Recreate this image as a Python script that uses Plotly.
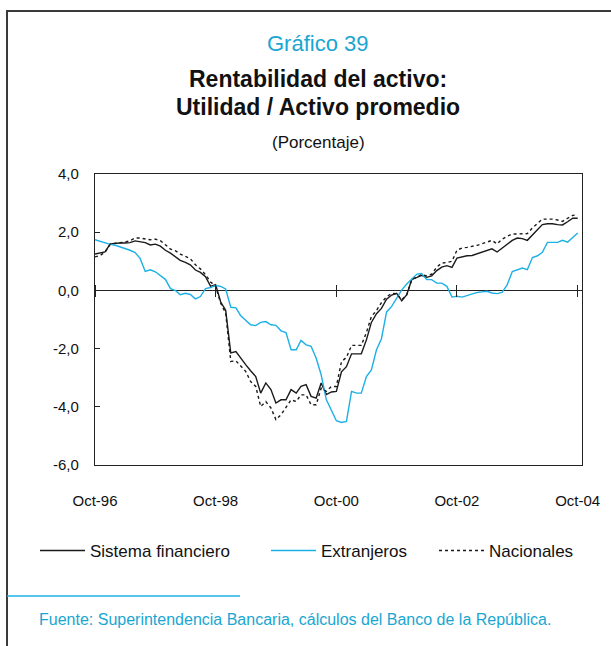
import pandas as pd
import plotly.graph_objects as go

# Monthly series, Oct-1996 .. Oct-2004 (percent)
months = pd.date_range("1996-10-01", "2004-10-01", freq="MS")

sistema = [
    1.25, 1.28, 1.32, 1.60, 1.62, 1.63, 1.63, 1.64, 1.70, 1.66,
    1.64, 1.56, 1.59, 1.52, 1.38, 1.28, 1.14, 1.03, 0.96, 0.88,
    0.70, 0.62, 0.47, 0.14, 0.20, -0.40, -0.68, -2.15, -2.10, -2.33,
    -2.55, -2.76, -2.96, -3.53, -3.18, -3.41, -3.87, -3.76, -3.76, -3.41,
    -3.53, -3.30, -3.24, -3.64, -3.70, -3.18, -3.58, -3.49, -3.47, -2.80,
    -2.62, -2.18, -2.18, -2.18, -1.70, -1.10, -0.80, -0.62, -0.30, -0.16,
    -0.10, -0.36, -0.15, 0.38, 0.45, 0.52, 0.45, 0.50, 0.68, 0.80,
    0.85, 0.79, 1.11, 1.16, 1.19, 1.20, 1.26, 1.32, 1.38, 1.43,
    1.32, 1.45, 1.60, 1.72, 1.80, 1.78, 1.72, 1.90, 2.10, 2.26,
    2.29, 2.29, 2.26, 2.25, 2.36, 2.48, 2.48,
]

extranjeros = [
    1.74, 1.68, 1.62, 1.58, 1.55, 1.50, 1.45, 1.38, 1.30, 1.10,
    0.65, 0.71, 0.64, 0.52, 0.38, 0.06, -0.01, -0.15, -0.10, -0.14,
    -0.29, -0.21, 0.06, 0.10, 0.17, 0.14, 0.05, -0.58, -0.60, -0.86,
    -1.04, -1.18, -1.21, -1.10, -1.07, -1.18, -1.20, -1.39, -1.45, -2.04,
    -2.04, -1.72, -1.87, -1.92, -2.33, -2.90, -3.75, -4.10, -4.48, -4.54,
    -4.50, -3.47, -3.53, -3.53, -2.96, -2.73, -2.04, -1.66, -0.74, -0.55,
    -0.26, 0.02, 0.22, 0.40, 0.56, 0.58, 0.37, 0.37, 0.25, 0.25,
    0.14, -0.23, -0.20, -0.23, -0.17, -0.12, -0.07, -0.05, -0.03, -0.09,
    -0.11, -0.07, 0.19, 0.65, 0.71, 0.77, 0.71, 1.13, 1.19, 1.31,
    1.65, 1.65, 1.65, 1.72, 1.66, 1.82, 1.97,
]

nacionales = [
    1.15, 1.20, 1.32, 1.58, 1.62, 1.63, 1.66, 1.71, 1.80, 1.80,
    1.78, 1.74, 1.76, 1.71, 1.57, 1.42, 1.36, 1.25, 1.17, 1.09,
    0.88, 0.74, 0.54, 0.29, 0.14, -0.44, -0.78, -2.44, -2.42, -2.61,
    -2.78, -3.13, -3.30, -3.99, -3.82, -4.04, -4.44, -4.27, -4.04, -3.76,
    -3.82, -3.59, -3.59, -3.93, -3.93, -3.36, -3.47, -3.30, -3.30, -2.45,
    -2.30, -1.89, -1.89, -1.89, -1.45, -0.90, -0.69, -0.42, -0.22, -0.10,
    -0.12, -0.32, -0.15, 0.38, 0.45, 0.54, 0.50, 0.56, 0.80, 0.94,
    0.96, 1.00, 1.38, 1.46, 1.48, 1.51, 1.55, 1.60, 1.66, 1.72,
    1.60, 1.76, 1.86, 1.94, 1.94, 1.94, 1.95, 2.15, 2.30, 2.45,
    2.45, 2.45, 2.42, 2.37, 2.48, 2.58, 2.60,
]

x_tick_dates = ["1996-10-01", "1998-10-01", "2000-10-01", "2002-10-01", "2004-10-01"]
x_tick_labels = ["Oct-96", "Oct-98", "Oct-00", "Oct-02", "Oct-04"]
y_tick_values = [4, 2, 0, -2, -4, -6]
y_tick_labels = [f"{v:.1f}".replace(".", ",") for v in y_tick_values]

CYAN_LINE = "#1DB0E6"
CYAN_TEXT = "#1AA6D2"
SANS = "Liberation Sans, Arial, sans-serif"
INK = "#111"

# plot area in pixels: left 95, right 582, top 174, bottom 465
PX_L, PX_W, PX_B, PX_H = 95, 487, 465, 291


def px_x(px):
    return (px - PX_L) / PX_W


def px_y(py):
    return (PX_B - py) / PX_H


fig = go.Figure()
fig.add_trace(go.Scatter(x=months, y=sistema, mode="lines", name="Sistema financiero",
                         legend="legend", line=dict(color="#1a1a1a", width=1.4)))
fig.add_trace(go.Scatter(x=months, y=extranjeros, mode="lines", name="Extranjeros",
                         legend="legend2", line=dict(color=CYAN_LINE, width=1.4)))
fig.add_trace(go.Scatter(x=months, y=nacionales, mode="lines", name="Nacionales",
                         legend="legend3", line=dict(color="#1a1a1a", width=1.4, dash="3px,3px")))

# Invisible companion so the overlaid tick axis on the zero line is rendered
fig.add_trace(go.Scatter(x=[months[0]], y=[0], xaxis="x2", mode="markers",
                         marker=dict(opacity=0), showlegend=False, hoverinfo="skip"))

x_range = ["1996-10-01", "2004-10-27"]
legend_style = dict(orientation="h", yanchor="middle", xanchor="left", y=px_y(551),
                    font=dict(family=SANS, size=17, color=INK), itemwidth=45,
                    bgcolor="rgba(0,0,0,0)")

fig.update_layout(
    width=611, height=646,
    margin=dict(l=95, r=29, t=174, b=181),
    paper_bgcolor="white", plot_bgcolor="white",
    showlegend=True,
    legend=dict(legend_style, x=px_x(35)),
    legend2=dict(legend_style, x=px_x(266)),
    legend3=dict(legend_style, x=px_x(434)),
    xaxis=dict(type="date", range=x_range, tickvals=x_tick_dates, ticktext=x_tick_labels,
               showgrid=False, zeroline=False, ticks="", ticklabelstandoff=22,
               showline=True, linecolor="#222", linewidth=1.2, mirror=True,
               tickfont=dict(family=SANS, size=15, color=INK)),
    xaxis2=dict(type="date", range=x_range, matches="x", overlaying="x", anchor="free",
                position=0.6 + 6 / PX_H, side="bottom", tickvals=x_tick_dates,
                showticklabels=False, ticks="outside", ticklen=12, tickwidth=1.4,
                tickcolor="#222", showline=False, showgrid=False, zeroline=False),
    yaxis=dict(range=[-6, 4], tickvals=y_tick_values, ticktext=y_tick_labels,
               showgrid=False, zeroline=True, zerolinecolor="#222", zerolinewidth=1.3,
               ticks="inside", ticklen=5, tickcolor="#222", ticklabelstandoff=12,
               showline=True, linecolor="#222", linewidth=1.2, mirror=True,
               tickfont=dict(family=SANS, size=15, color=INK)),
)

# Outer frame: a box whose top and left edges fall inside the page
fig.add_shape(type="rect", xref="paper", yref="paper",
              x0=px_x(7), x1=px_x(700), y0=px_y(11), y1=px_y(700),
              line=dict(color="#3a3a3a", width=2), fillcolor="rgba(0,0,0,0)", layer="above")
# Separator above the source note
fig.add_shape(type="line", xref="paper", yref="paper", x0=px_x(7), x1=px_x(240),
              y0=px_y(596), y1=px_y(596), line=dict(color=CYAN_LINE, width=1.4))

cx = px_x(318)
heading = [
    ("Gráfico 39", 43, dict(family=SANS, size=22, color=CYAN_TEXT)),
    ("<b>Rentabilidad del activo:</b>", 79, dict(family=SANS, size=23, color=INK)),
    ("<b>Utilidad / Activo promedio</b>", 107, dict(family=SANS, size=23, color=INK)),
    ("(Porcentaje)", 143, dict(family=SANS, size=17, color=INK)),
]
for text, py, font in heading:
    fig.add_annotation(text=text, xref="paper", yref="paper", x=cx, y=px_y(py),
                       xanchor="center", yanchor="middle", showarrow=False, font=font)

fig.add_annotation(text="Fuente: Superintendencia Bancaria, cálculos del Banco de la República.",
                   xref="paper", yref="paper", x=px_x(37), y=px_y(619),
                   xanchor="left", yanchor="middle", showarrow=False,
                   font=dict(family=SANS, size=16, color=CYAN_TEXT))

fig.write_html("out.html")
